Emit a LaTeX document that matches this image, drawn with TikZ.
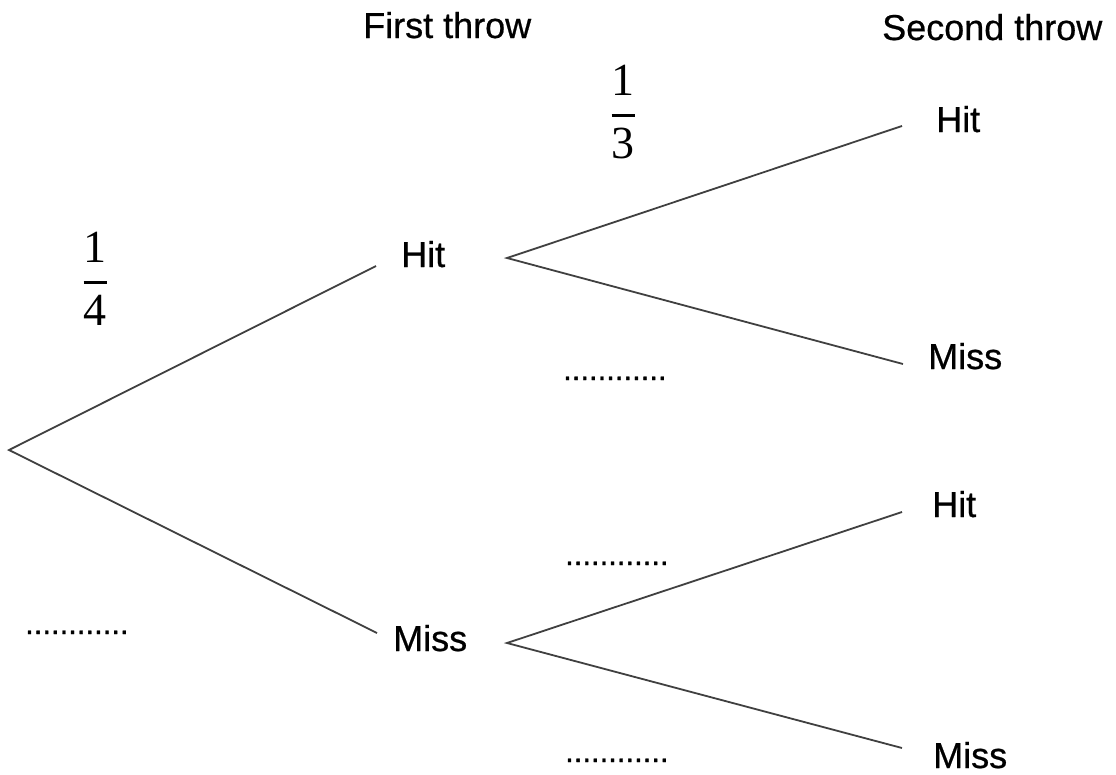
\RequirePackage{fix-cm}
\documentclass[tikz,border=0pt]{standalone}
\usepackage{amsmath}
\usepackage{fontspec}
\setmainfont{Liberation Sans}
\newfontfamily\fracfont{Liberation Serif}
\newcommand\prob[2]{$\displaystyle\genfrac{}{}{3.2pt}{0}{\hbox{\fracfont #1}}{\hbox{\fracfont #2}}$}
\tikzset{
  lbl/.style={inner sep=0pt,anchor=base west,font=\fontsize{36}{40}\selectfont\addfontfeatures{FakeBold=0.6}},
  blank/.style={inner sep=0pt,anchor=base west,font=\fontsize{31}{34}\selectfont\addfontfeatures{FakeBold=1}},
  pr/.style={inner sep=0pt,font=\fontsize{46}{50}\selectfont},
  branch/.style={line width=1.8pt,black!75}
}
\begin{document}
\begin{tikzpicture}[x=1pt,y=-1pt]
    \useasboundingbox (0,0) rectangle (1116,774);
    % headings
    \node[lbl] (first) at (363,38) {First throw};
    \node[lbl] (second) at (882,40) {Second throw};
    % first throw
    \coordinate (root) at (9,450);
    \coordinate (hitin) at (376,266);
    \coordinate (hitout) at (507,258);
    \coordinate (missin) at (377,633);
    \coordinate (missout) at (507,643);
    \node[lbl] (hit) at (401,267) {Hit};
    \node[lbl] (miss) at (393,651) {Miss};
    \draw[branch] (hitin) -- (root) -- (missin);
    % second throw
    \coordinate (hhend) at (902,126);
    \coordinate (hmend) at (903,364);
    \coordinate (mhend) at (902,512);
    \coordinate (mmend) at (902,748);
    \node[lbl] (hithit) at (936,132) {Hit};
    \node[lbl] (hitmiss) at (928,369) {Miss};
    \node[lbl] (misshit) at (932,517) {Hit};
    \node[lbl] (missmiss) at (933,768) {Miss};
    \draw[branch] (hhend) -- (hitout) -- (hmend);
    \draw[branch] (mhend) -- (missout) -- (mmend);
    % probabilities
    \node[pr] (phit) at (95,279) {\prob{1}{4}};
    \node[pr] (phithit) at (623,112) {\prob{1}{3}};
    \node[blank] (pmiss) at (25,634) {............};
    \node[blank] (phitmiss) at (563,380) {............};
    \node[blank] (pmisshit) at (565,565) {............};
    \node[blank] (pmissmiss) at (565,762) {............};
\end{tikzpicture}
\end{document}
